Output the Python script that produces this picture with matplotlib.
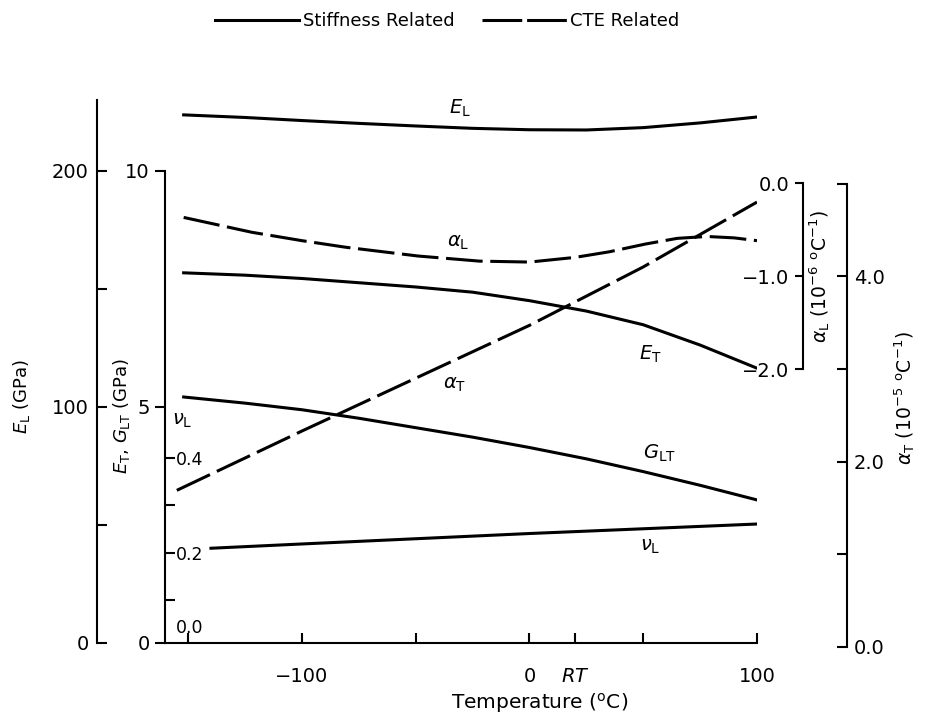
import matplotlib
matplotlib.use('Agg')
import matplotlib.pyplot as plt
from matplotlib.lines import Line2D

# ---- data ----
temp = [-152, -125, -100, -75, -50, -25, 0, 25, 50, 75, 100]
e_l = [223.7, 222.6, 221.3, 220.1, 219.0, 218.0, 217.4, 217.3, 218.3, 220.3, 222.8]   # GPa
e_t = [7.84, 7.79, 7.72, 7.63, 7.54, 7.43, 7.25, 7.03, 6.74, 6.31, 5.82]              # GPa
g_lt = [5.21, 5.08, 4.94, 4.76, 4.56, 4.36, 4.14, 3.90, 3.63, 3.34, 3.03]              # GPa

temp_nu = [-140, -100, -50, 0, 50, 100]
nu_l = [0.210, 0.219, 0.230, 0.241, 0.251, 0.261]

temp_al = [-152, -122, -100, -81, -49, -22, 0, 20, 35, 51, 65, 78, 90, 100]
alpha_l = [-0.37, -0.53, -0.62, -0.69, -0.785, -0.84, -0.85, -0.80, -0.74, -0.656,
           -0.595, -0.575, -0.59, -0.62]                                               # 1e-6 /C

temp_at = [-155, -100, -50, 0, 50, 100]
alpha_t = [1.69, 2.33, 2.90, 3.47, 4.10, 4.80]                                         # 1e-5 /C

x_ticks = [-150, -100, -50, 0, 20, 50, 100]
x_labels = ['', '\u2212100', '', '0', '$RT$', '', '100']
el_ticks = [0, 100, 200]
el_minor = [50, 150]
et_ticks = [0, 5, 10]
nu_ticks = [0.2, 0.4]
nu_labels = ['0.2', '0.4']
nu_minor = [0.1, 0.3]
al_ticks = [0.0, -1.0, -2.0]
al_labels = ['0.0', '\u22121.0', '\u22122.0']
at_ticks = [0.0, 2.0, 4.0]
at_labels = ['0.0', '2.0', '4.0']
at_minor = [1.0, 3.0, 5.0]

W, H = 926, 719
def fx(px):
    return px / W
def fy(py):
    return 1 - py / H

LW = 2.2
SW = 1.5
DASH = (12, 2.5)
TICK_FS = 14

fig = plt.figure(figsize=(W / 100, H / 100), dpi=100)

# main axes: E_L scale, spine pushed out to the left
ax = fig.add_axes([fx(165), fy(643), 592 / W, 543 / H])
ax.set_xlim(-160.2, 100)
ax.set_ylim(0, 230)
ax.spines['top'].set_visible(False)
ax.spines['right'].set_visible(False)
ax.spines['left'].set_position(('outward', 49))
for sp in ax.spines.values():
    sp.set_linewidth(SW)
ax.set_xticks(x_ticks)
ax.set_xticklabels(x_labels)
ax.tick_params(axis='x', direction='in', length=7, width=SW, pad=17, labelsize=TICK_FS)
ax.set_yticks(el_ticks)
ax.set_yticks(el_minor, minor=True)
ax.tick_params(axis='y', which='both', direction='in', length=7, width=SW, pad=6, labelsize=TICK_FS)
ax.plot(temp, e_l, color='k', lw=LW)

# E_T / G_LT scale on the inner left spine
ax_et = ax.twinx()
for sp in ax_et.spines.values():
    sp.set_visible(False)
ax_et.spines['left'].set_visible(True)
ax_et.spines['left'].set_linewidth(SW)
ax_et.spines['left'].set_bounds(0, 10)
ax_et.yaxis.tick_left()
ax_et.set_ylim(0, 11.5)
ax_et.set_yticks(et_ticks)
ax_et.tick_params(axis='y', direction='out', length=7, width=SW, pad=4, labelsize=TICK_FS)
ax_et.plot(temp, e_t, color='k', lw=LW)
ax_et.plot(temp, g_lt, color='k', lw=LW)

# Poisson ratio scale, ticks inside on the inner spine
ax_nu = ax.twinx()
for sp in ax_nu.spines.values():
    sp.set_visible(False)
ax_nu.spines['right'].set_position(('axes', 0))
ax_nu.yaxis.tick_right()
ax_nu.set_ylim(0.0105, 1.1537)
ax_nu.set_yticks(nu_ticks)
ax_nu.set_yticklabels(nu_labels)
ax_nu.set_yticks(nu_minor, minor=True)
ax_nu.tick_params(axis='y', which='both', direction='out', length=7, width=SW, pad=1, labelsize=12.5)
ax_nu.plot(temp_nu, nu_l, color='k', lw=LW)

# alpha_L scale on the first right spine
ax_al = ax.twinx()
for sp in ax_al.spines.values():
    sp.set_visible(False)
ax_al.spines['left'].set_visible(True)
ax_al.spines['left'].set_linewidth(SW)
ax_al.spines['left'].set_position(('axes', (803 - 165) / 592))
ax_al.spines['left'].set_bounds(-2, 0)
ax_al.yaxis.tick_left()
ax_al.set_ylim(-4.946, 0.8925)
ax_al.set_yticks(al_ticks)
ax_al.set_yticklabels(al_labels)
ax_al.tick_params(axis='y', direction='out', length=6, width=SW, pad=4, labelsize=TICK_FS)
ax_al.plot(temp_al, alpha_l, color='k', lw=LW, dashes=DASH)

# alpha_T scale on the outer right spine (its zero sits a little below the x axis)
ax_at = fig.add_axes([fx(165), fy(647), 592 / W, 547 / H], sharex=ax, facecolor='none')
for sp in ax_at.spines.values():
    sp.set_visible(False)
ax_at.xaxis.set_visible(False)
ax_at.spines['right'].set_visible(True)
ax_at.spines['right'].set_linewidth(SW)
ax_at.spines['right'].set_position(('axes', (847 - 165) / 592))
ax_at.spines['right'].set_bounds(0, 5)
ax_at.yaxis.tick_right()
ax_at.set_ylim(0, 5.901)
ax_at.set_yticks(at_ticks)
ax_at.set_yticklabels(at_labels)
ax_at.set_yticks(at_minor, minor=True)
ax_at.tick_params(axis='y', which='both', direction='in', length=7, width=SW, pad=5, labelsize=TICK_FS)
ax_at.plot(temp_at, alpha_t, color='k', lw=LW, dashes=DASH)

# axis titles
fig.text(fx(22), fy(397), r'$E_{\rm L}$ (GPa)', rotation=90, ha='center', va='center', fontsize=13)
fig.text(fx(122), fy(416), r'$E_{\rm T}$, $G_{\rm LT}$ (GPa)', rotation=90, ha='center', va='center', fontsize=13)
fig.text(fx(820), fy(276), r'$\alpha_{\rm L}$ (10$^{-6}$ $^{\rm o}$C$^{-1}$)', rotation=90,
         ha='center', va='center', fontsize=13.5)
fig.text(fx(905), fy(398), r'$\alpha_{\rm T}$ (10$^{-5}$ $^{\rm o}$C$^{-1}$)', rotation=90,
         ha='center', va='center', fontsize=13.5)
fig.text(fx(540), fy(703), r'Temperature ($^{\rm o}$C)', ha='center', va='center', fontsize=14.5)

# curve labels
curve_labels = [
    (460, 108, r'$E_{\rm L}$'),
    (458, 242, r'$\alpha_{\rm L}$'),
    (455, 385, r'$\alpha_{\rm T}$'),
    (650, 354, r'$E_{\rm T}$'),
    (660, 453, r'$G_{\rm LT}$'),
    (650, 547, r'$\nu_{\rm L}$'),
    (182, 420, r'$\nu_{\rm L}$'),
]
for px, py, s in curve_labels:
    fig.text(fx(px), fy(py), s, ha='center', va='center', fontsize=14)
fig.text(fx(190), fy(628), '0.0', ha='center', va='center', fontsize=12.5)

# legend
handles = [Line2D([], [], color='k', lw=LW),
           Line2D([], [], color='k', lw=LW, dashes=(13, 1.6))]
fig.legend(handles, ['Stiffness Related', 'CTE Related'], loc='center', ncol=2,
           bbox_to_anchor=(fx(447), fy(21)), frameon=False, fontsize=13,
           handlelength=4.7, handletextpad=0.2, columnspacing=1.5)

fig.savefig('out.png', dpi=100)
